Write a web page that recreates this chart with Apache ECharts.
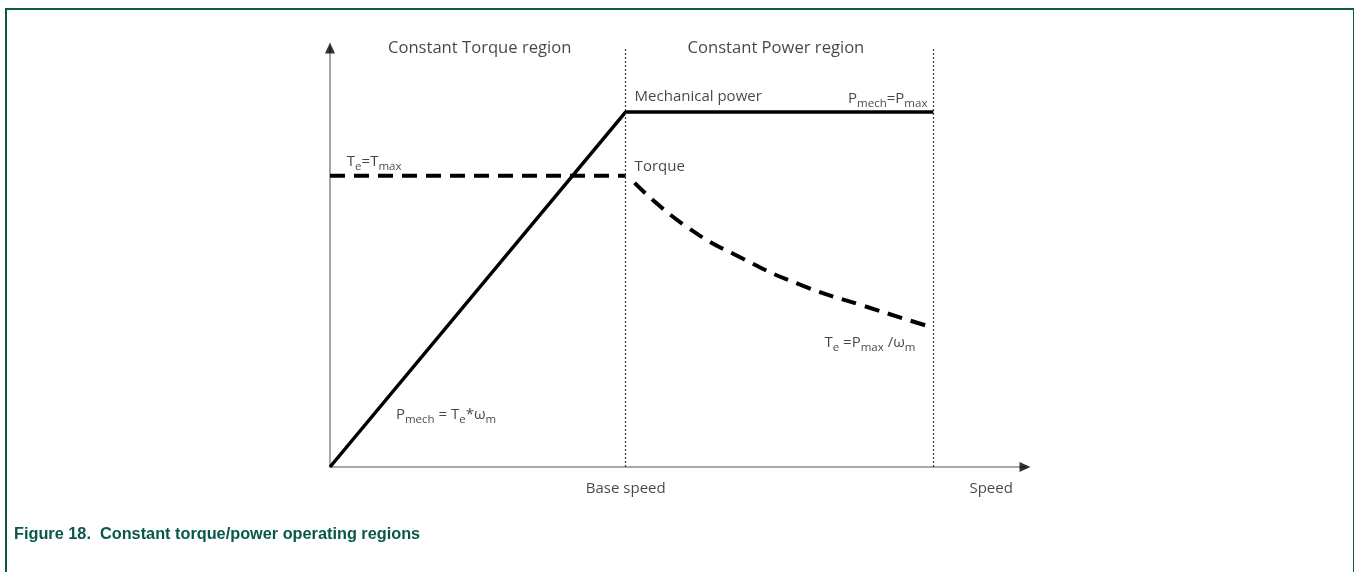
<!DOCTYPE html>
<html>
<head>
<meta charset="utf-8">
<script src="https://cdn.jsdelivr.net/npm/echarts@6/dist/echarts.min.js"></script>
<style>
  html, body { margin: 0; padding: 0; background: #fff; }
  #chart { position: absolute; left: 0; top: 0; width: 1354px; height: 572px; }
  #frame { position: absolute; left: 5px; top: 8px; width: 1346px; height: 570px;
           border-top: 2px solid #0b5a48; border-left: 2px solid #0b5a48; border-right: 2px solid #0b5a48; }
  #caption { position: absolute; left: 14px; top: 524px; font-family: "Liberation Sans", Arial, sans-serif;
             font-weight: bold; font-size: 16.3px; color: #07584a; white-space: pre; }
</style>
</head>
<body>
<div id="frame"></div>
<div id="chart"></div>
<div id="caption">Figure 18.  Constant torque/power operating regions</div>
<script>
// ---- data (normalised: base speed = 1, Pmax = 1) ----
const speedMax = 2.35;       // end of speed axis
const valueMax = 1.18;       // end of vertical axis
const baseSpeed = 1;
const maxSpeed = 2.04;

const powerX = [0, 1, 2.04];
const powerY = [0, 1, 1];

const torqueConstX = [0, 1];
const torqueConstY = [0.82, 0.82];

const torqueWeakX = [1.03, 1.2, 1.4, 1.6, 1.8, 2.04];
const torqueWeakY = [0.80, 0.68, 0.585, 0.51, 0.455, 0.392];

// annotation texts with their anchor in data coordinates
const labelTexts = [
  'Constant Torque region',
  'Constant Power region',
  'Mechanical power',
  '{m|P}{s|mech}{m|=P}{s|max}',
  '{m|T}{s|e}{m|=T}{s|max}',
  'Torque',
  '{m|T}{s|e}{m| =P}{s|max}{m| /ω}{s|m}',
  '{m|P}{s|mech}{m| = T}{s|e}{m|*ω}{s|m}',
  'Base speed',
  'Speed'
];
const labelX = [0.196, 1.209, 1.030, 2.02, 0.057, 1.030, 1.672, 0.223, 1.0, 2.162];
const labelY = [1.179, 1.179, 1.042, 1.037, 0.859, 0.845, 0.349, 0.146, -0.062, -0.062];
const labelSize = [16.6, 16.6, 15, 15, 15, 15, 15, 15, 15, 15];
const labelAlign = ['left', 'left', 'left', 'right', 'left', 'left', 'left', 'left', 'center', 'left'];

const zip = (xs, ys) => xs.map((x, i) => [x, ys[i]]);
const FONT = '"Open Sans", Lato, sans-serif';
const TXT = '#161616';

const chart = echarts.init(document.getElementById('chart'), null, { renderer: 'canvas' });

const labelData = labelTexts.map((t, i) => ({
  value: [labelX[i], labelY[i]],
  label: {
    show: true,
    formatter: t,
    position: 'inside',
    align: labelAlign[i],
    verticalAlign: 'middle',
    fontSize: labelSize[i],
    color: TXT,
    fontFamily: FONT,
    rich: {
      m: { fontSize: labelSize[i], color: TXT, fontFamily: FONT, lineHeight: 22, verticalAlign: 'middle' },
      s: { fontSize: 11.5, color: TXT, fontFamily: FONT, lineHeight: 11, verticalAlign: 'bottom' }
    }
  }
}));

chart.setOption({
  animation: false,
  grid: { left: 330, top: 48, right: 329, bottom: 105, containLabel: false },
  xAxis: {
    type: 'value', min: 0, max: speedMax,
    axisLine: { show: true, onZero: false, lineStyle: { color: '#a8a8a8', width: 2 } },
    axisTick: { show: false }, axisLabel: { show: false }, splitLine: { show: false }
  },
  yAxis: {
    type: 'value', min: 0, max: valueMax,
    axisLine: { show: true, onZero: false, lineStyle: { color: '#a8a8a8', width: 2 } },
    axisTick: { show: false }, axisLabel: { show: false }, splitLine: { show: false }
  },
  series: [
    { // boundary lines
      type: 'line', silent: true, symbol: 'none', data: [],
      markLine: {
        silent: true, symbol: 'none', label: { show: false },
        lineStyle: { color: '#3a3a3a', width: 1.2, type: [2, 2] },
        data: [
          [{ coord: [baseSpeed, 0] }, { coord: [baseSpeed, valueMax] }],
          [{ coord: [maxSpeed, 0] }, { coord: [maxSpeed, valueMax] }]
        ]
      }
    },
    { // torque constant
      type: 'line', symbol: 'none', data: zip(torqueConstX, torqueConstY),
      lineStyle: { color: '#000', width: 4, type: [15, 9] }
    },
    { // torque field weakening
      type: 'line', symbol: 'none', smooth: true, data: zip(torqueWeakX, torqueWeakY),
      lineStyle: { color: '#000', width: 4, type: [15, 9] }
    },
    { // mechanical power
      type: 'line', symbol: 'none', data: zip(powerX, powerY),
      lineStyle: { color: '#000', width: 3.5 }
    },
    { // axis arrows
      type: 'scatter', clip: false, silent: true,
      symbol: 'triangle', symbolSize: [10, 11],
      itemStyle: { color: '#000' },
      data: [
        { value: [speedMax, 0], symbolRotate: -90 },
        { value: [0, valueMax], symbolRotate: 0 }
      ]
    },
    { // annotations
      type: 'scatter', clip: false, silent: true, symbolSize: 0,
      data: labelData
    }
  ]
});
</script>
</body>
</html>
